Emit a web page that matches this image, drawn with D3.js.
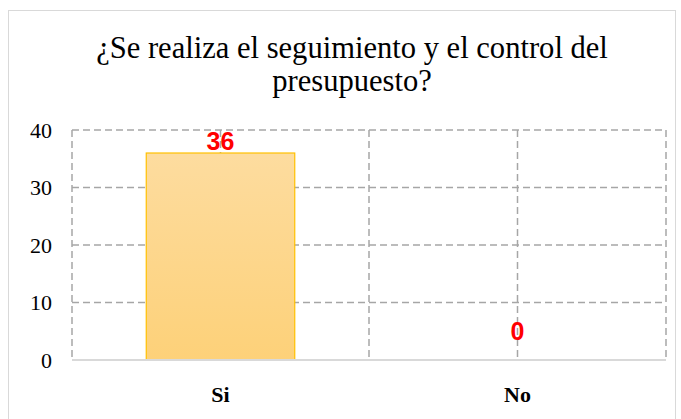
<!DOCTYPE html>
<html>
<head>
<meta charset="utf-8">
<script src="https://cdn.jsdelivr.net/npm/d3@7"></script>
<style>
  body { margin: 0; background: #fff; }
  svg { display: block; }
</style>
</head>
<body>
<svg id="chart"></svg>
<script>
// chart data
const categories = ["Si", "No"];
const values = [36, 0];
const yTicks = [0, 10, 20, 30, 40];
const titleLines = ["¿Se realiza el seguimiento y el control del", "presupuesto?"];

const SERIF = "Liberation Serif";
const SANS = "Liberation Sans";

const width = 681, height = 419;
const margin = { top: 130, right: 15, bottom: 59, left: 72 };
const plotW = width - margin.left - margin.right;
const plotH = height - margin.top - margin.bottom;

const svg = d3.select("#chart").attr("width", width).attr("height", height);

// outer chart border
svg.append("rect")
  .attr("x", 8.5).attr("y", 10.5)
  .attr("width", 667).attr("height", 430)
  .attr("fill", "none")
  .attr("stroke", "#d9d9d9")
  .attr("stroke-width", 1);

// title
let title = svg.append("text")
  .attr("text-anchor", "middle")
  .attr("font-family", SERIF)
  .attr("font-size", 26)
  .attr("fill", "#000");
title.selectAll("tspan")
  .data(titleLines)
  .enter()
  .append("tspan")
  .attr("x", 352)
  .attr("y", (d, i) => 58 + i * 33)
  .text(d => d);

// fit first line to the width seen in the picture (~512px)
let firstW = title.select("tspan").node().getComputedTextLength();
title.attr("font-size", 26 * 512 / firstW);

const g = svg.append("g")
  .attr("transform", "translate(" + margin.left + "," + margin.top + ")");

const x = d3.scaleBand().domain(categories).range([0, plotW]);
const y = d3.scaleLinear().domain([0, 40]).range([plotH, 0]);

const gridColor = "#a6a6a6";
const dash = "7,4";

// horizontal gridlines
g.append("g")
  .selectAll("line")
  .data(yTicks.filter(t => t > 0))
  .enter()
  .append("line")
  .attr("x1", 0).attr("x2", plotW)
  .attr("y1", d => y(d)).attr("y2", d => y(d))
  .attr("stroke", gridColor)
  .attr("stroke-width", 1.5)
  .attr("stroke-dasharray", dash);

// vertical gridlines at band edges and centers
const vLines = [0];
categories.forEach(c => {
  vLines.push(x(c) + x.bandwidth() / 2);
  vLines.push(x(c) + x.bandwidth());
});
g.append("g")
  .selectAll("line")
  .data(vLines)
  .enter()
  .append("line")
  .attr("x1", d => d).attr("x2", d => d)
  .attr("y1", 0).attr("y2", plotH)
  .attr("stroke", gridColor)
  .attr("stroke-width", 1.5)
  .attr("stroke-dasharray", dash);

// bar gradient
const grad = svg.append("defs").append("linearGradient")
  .attr("id", "barGrad")
  .attr("x1", 0).attr("y1", 0).attr("x2", 0).attr("y2", 1);
grad.append("stop").attr("offset", "0%").attr("stop-color", "#fddc9f");
grad.append("stop").attr("offset", "100%").attr("stop-color", "#fdd179");

const barW = x.bandwidth() * 0.5;

g.append("g")
  .selectAll("rect")
  .data(categories.map((c, i) => ({ cat: c, value: values[i] })).filter(d => d.value > 0))
  .enter()
  .append("rect")
  .attr("x", d => x(d.cat) + (x.bandwidth() - barW) / 2)
  .attr("y", d => y(d.value))
  .attr("width", barW)
  .attr("height", d => plotH - y(d.value))
  .attr("fill", "url(#barGrad)")
  .attr("stroke", "#ffc000")
  .attr("stroke-width", 1.2);

// x axis baseline
g.append("line")
  .attr("x1", 0).attr("x2", plotW)
  .attr("y1", plotH).attr("y2", plotH)
  .attr("stroke", "#d9d9d9")
  .attr("stroke-width", 2);

// y axis labels
const yAxis = d3.axisLeft(y).tickValues(yTicks).tickSize(0).tickPadding(20);
const yG = g.append("g").call(yAxis);
yG.select(".domain").remove();
yG.selectAll("text")
  .attr("font-family", SERIF)
  .style("font-family", SERIF)
  .attr("font-size", 22)
  .style("font-size", "22px")
  .attr("dy", "0.34em")
  .attr("fill", "#000");

// x axis labels
const xAxis = d3.axisBottom(x).tickSize(0).tickPadding(26);
const xG = g.append("g")
  .attr("transform", "translate(0," + plotH + ")")
  .call(xAxis);
xG.select(".domain").remove();
xG.selectAll("text")
  .attr("font-family", SERIF)
  .style("font-family", SERIF)
  .attr("font-size", 22)
  .style("font-size", "22px")
  .attr("font-weight", "bold")
  .style("font-weight", "bold")
  .attr("fill", "#000");

// data labels, kept inside the plot area like Excel does
g.append("g")
  .selectAll("text")
  .data(values)
  .enter()
  .append("text")
  .attr("x", (d, i) => x(categories[i]) + x.bandwidth() / 2)
  .attr("y", d => Math.max(y(d) - 20, 20))
  .attr("text-anchor", "middle")
  .attr("font-family", SANS)
  .attr("font-size", 25)
  .attr("font-weight", "bold")
  .attr("fill", "#ff0000")
  .text(d => d);
</script>
</body>
</html>
